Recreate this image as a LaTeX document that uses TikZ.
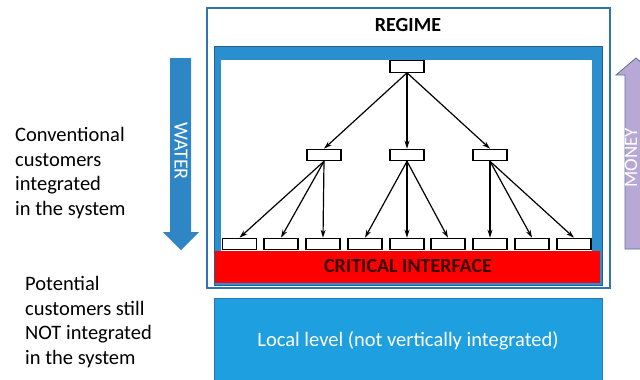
\documentclass[tikz,border=0pt]{standalone}
\usepackage{fontspec}
\setmainfont{Carlito}
\usetikzlibrary{arrows.meta}
\definecolor{frameblue}{HTML}{2E75B6}
\definecolor{thickblue}{HTML}{2A8FCF}
\definecolor{localblue}{HTML}{1E9FDF}
\definecolor{waterblue}{HTML}{2E86C4}
\definecolor{moneyfill}{HTML}{B8A8D6}
\definecolor{moneyedge}{HTML}{56739A}
\definecolor{crittext}{HTML}{3A0000}
\tikzset{
  box/.style={draw=black, line width=1.1pt, fill=white, minimum width=34pt, minimum height=11.5pt, inner sep=0pt},
  arr/.style={draw=black, line width=1.2pt, -{Stealth[length=8pt,width=5pt]}},
  lefttext/.style={anchor=north west, align=left, font=\fontsize{20.5}{24.7}\selectfont, inner sep=0pt}
}
\begin{document}
\begin{tikzpicture}[x=1pt,y=-1pt]
\useasboundingbox (0,0) rectangle (640,380);
\clip (0,0) rectangle (640,380);
\fill[white] (0,0) rectangle (640,380);
% outer regime frame
\draw[frameblue, line width=1.5pt, fill=white] (207,8) rectangle (610,288);
\node[font=\bfseries\fontsize{20}{24}\selectfont] (regime) at (408,25) {REGIME};
% thick blue frame
\fill[thickblue] (214,46) rectangle (602,285);
\draw[frameblue!80!black, line width=0.6pt] (214,46) rectangle (602,285);
\fill[white] (221,60) rectangle (592,252);
% red critical interface
\fill[red] (215,251) rectangle (600,283);
\node[font=\bfseries\fontsize{20}{24}\selectfont, text=crittext] (crit) at (408,266) {CRITICAL INTERFACE};
% tree boxes
\node[box] (t) at (407,66.5) {};
\node[box] (m1) at (324,155) {};
\node[box] (m2) at (407,155) {};
\node[box] (m3) at (490,155) {};
\foreach \i/\x in {1/239.5,2/281,3/323,4/365,5/407,6/448,7/490,8/532,9/574}{
  \node[box] (b\i) at (\x,244) {};
}
\draw[arr] (t.south) -- (m1.north);
\draw[arr] (t.south) -- (m2.north);
\draw[arr] (t.south) -- (m3.north);
\draw[arr] (m1.south) -- (b1.north);
\draw[arr] (m1.south) -- (b2.north);
\draw[arr] (m1.south) -- (b3.north);
\draw[arr] (m2.south) -- (b4.north);
\draw[arr] (m2.south) -- (b5.north);
\draw[arr] (m2.south) -- (b6.north);
\draw[arr] (m3.south) -- (b7.north);
\draw[arr] (m3.south) -- (b8.north);
\draw[arr] (m3.south) -- (b9.north);
% local level box
\fill[localblue] (214,298) rectangle (602,390);
\draw[frameblue, line width=0.6pt] (214,298) rectangle (602,390);
\node[font=\fontsize{20.5}{24}\selectfont, text=white] (local) at (408,341) {Local level (not vertically integrated)};
% water arrow
\fill[waterblue] (170,58) -- (191,58) -- (191,232) -- (199,232) -- (181,250) -- (163,232) -- (170,232) -- cycle;
\node[rotate=-90, text=white, font=\fontsize{20}{24}\selectfont, inner sep=0pt] (water) at (181,151) {WATER};
% money arrow
\draw[moneyedge, fill=moneyfill, line width=0.8pt] (625,249) -- (625,75) -- (616,75) -- (636,58) -- (656,75) -- (647,75) -- (647,249) -- cycle;
\node[rotate=90, text=white, font=\fontsize{19}{24}\selectfont, inner sep=0pt] (money) at (631,158) {MONEY};
% left texts
\node[lefttext] (conv) at (15,127) {Conventional\\customers\\integrated\\in the system};
\node[lefttext] (pot) at (25,276) {Potential\\customers still\\NOT integrated\\in the system};
\end{tikzpicture}
\end{document}
